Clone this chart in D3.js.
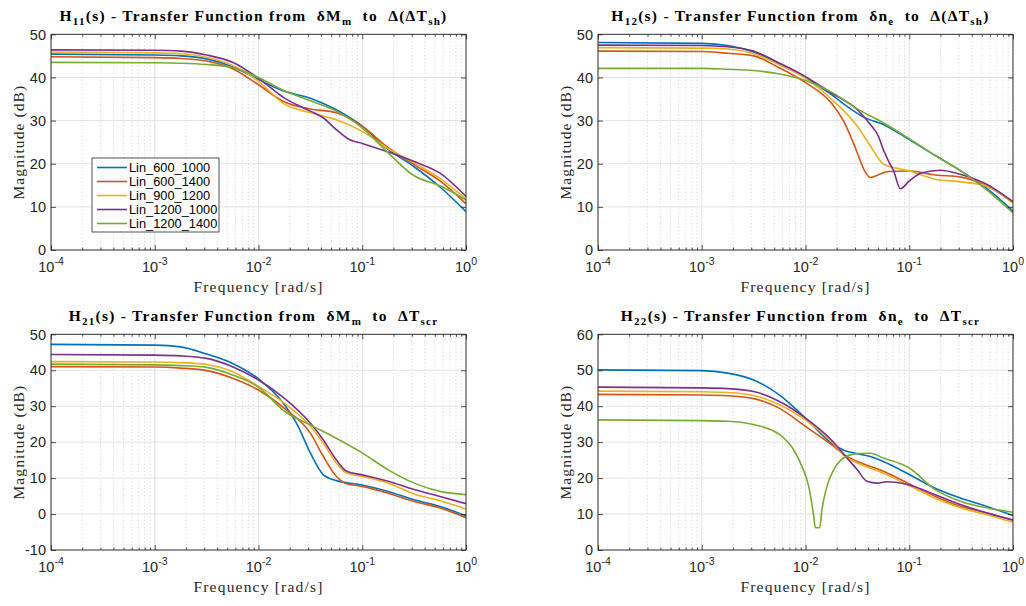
<!DOCTYPE html>
<html><head><meta charset="utf-8">
<script src="https://cdn.jsdelivr.net/npm/d3@7"></script>
<style>
body{margin:0;background:#fff}
svg{display:block}
text{white-space:pre}
</style>
</head><body>
<svg id="chart" width="1026" height="606"></svg>
<script>
// ---------- data ----------
const seriesNames = ["Lin_600_1000","Lin_600_1400","Lin_900_1200","Lin_1200_1000","Lin_1200_1400"];
const seriesColors = ["#0072BD","#D95319","#EDB120","#7E2F8E","#77AC30"];
const xTickExponents = [-4,-3,-2,-1,0];
const yTicksTop = [0,10,20,30,40,50];
const yTicksH21 = [-10,0,10,20,30,40,50];
const yTicksH22 = [0,10,20,30,40,50,60];
const xLabel = "Frequency [rad/s]";
const yLabel = "Magnitude (dB)";

// H11: δMm -> Δ(ΔTsh)   [frequency rad/s, magnitude dB]
const H11_600_1000 = [[1e-4,45.4],[1e-3,45.2],[1.78e-3,45.0],[3.16e-3,44.3],[5.62e-3,42.5],[1e-2,39.5],[1.78e-2,36.8],[3.16e-2,35.2],[5.62e-2,32.5],[0.1,28.7],[0.178,23.3],[0.316,19.3],[0.562,14.6],[1,8.9]];
const H11_600_1400 = [[1e-4,44.8],[1e-3,44.6],[1.78e-3,44.4],[3.16e-3,43.8],[5.62e-3,42.0],[1e-2,38.3],[1.78e-2,34.3],[3.16e-2,32.7],[5.62e-2,31.8],[0.1,28.7],[0.178,23.7],[0.316,19.8],[0.562,16.0],[1,10.7]];
const H11_900_1200 = [[1e-4,45.9],[1e-3,45.7],[1.78e-3,45.5],[3.16e-3,44.7],[5.62e-3,42.8],[1e-2,39.1],[1.78e-2,33.8],[3.16e-2,31.8],[5.62e-2,30.2],[0.1,27.5],[0.178,23.5],[0.316,20.2],[0.562,16.6],[1,11.8]];
const H11_1200_1000 = [[1e-4,46.4],[1e-3,46.3],[1.78e-3,46.1],[3.16e-3,45.2],[5.62e-3,43.5],[1e-2,39.8],[1.78e-2,35.2],[3.16e-2,32.2],[4.22e-2,30.6],[5.62e-2,27.9],[7.5e-2,25.6],[0.1,24.7],[0.178,22.7],[0.316,20.5],[0.562,17.8],[1,12.4]];
const H11_1200_1400 = [[1e-4,43.5],[1e-3,43.4],[1.78e-3,43.3],[3.16e-3,43.0],[5.62e-3,42.3],[1e-2,40.0],[1.78e-2,36.9],[3.16e-2,34.6],[5.62e-2,32.2],[0.1,28.3],[0.178,22.5],[0.316,17.2],[0.562,14.9],[1,11.6]];

// H12: δne -> Δ(ΔTsh)
const H12_600_1000 = [[1e-4,48.1],[1e-3,47.9],[1.78e-3,47.4],[3.16e-3,45.9],[5.62e-3,43.2],[1e-2,40.0],[1.78e-2,36.0],[2.51e-2,33.3],[3.63e-2,30.8],[5.62e-2,29.1],[0.1,25.6],[0.178,21.9],[0.316,18.3],[0.562,14.2],[1,9.0]];
const H12_600_1400 = [[1e-4,46.1],[1e-3,46.0],[1.78e-3,45.6],[3.16e-3,45.0],[5.62e-3,42.2],[1e-2,38.8],[1.78e-2,34.0],[2.37e-2,29.5],[3.16e-2,22.5],[3.65e-2,18.7],[4.22e-2,16.8],[5.01e-2,17.4],[6.31e-2,18.2],[0.1,18.3],[0.178,17.4],[0.316,16.9],[0.562,14.8],[1,11.2]];
const H12_900_1200 = [[1e-4,46.9],[1e-3,46.8],[1.78e-3,46.6],[3.16e-3,45.5],[5.62e-3,42.9],[1e-2,39.8],[1.78e-2,35.0],[3.16e-2,28.7],[4.22e-2,24.1],[5.01e-2,21.4],[5.62e-2,19.9],[7.5e-2,19.0],[0.1,18.3],[0.178,16.4],[0.316,15.8],[0.562,14.8],[1,10.8]];
const H12_1200_1000 = [[1e-4,47.5],[1e-3,47.4],[1.78e-3,47.1],[3.16e-3,46.1],[5.62e-3,43.3],[1e-2,40.2],[1.78e-2,36.4],[3.16e-2,32.5],[4.22e-2,29.1],[5.01e-2,26.5],[5.62e-2,23.3],[6.31e-2,20.6],[7.08e-2,18.3],[8.22e-2,14.2],[0.1,16.0],[0.133,17.9],[0.2,18.5],[0.316,17.5],[0.562,15.2],[1,11.2]];
const H12_1200_1400 = [[1e-4,42.1],[1e-3,42.1],[1.78e-3,41.9],[3.16e-3,41.6],[5.62e-3,40.8],[1e-2,39.3],[1.78e-2,36.6],[3.16e-2,32.7],[5.62e-2,29.5],[0.1,25.8],[0.178,21.9],[0.316,18.3],[0.562,13.9],[1,8.6]];

// H21: δMm -> ΔTscr
const H21_600_1000 = [[1e-4,47.2],[1e-3,47.0],[1.78e-3,46.5],[3.16e-3,44.5],[5.62e-3,41.9],[1e-2,37.6],[1.78e-2,30.4],[2.37e-2,24.8],[3.16e-2,17.0],[4.22e-2,10.9],[5.62e-2,9.3],[0.1,8.1],[0.178,6.3],[0.316,4.0],[0.562,2.1],[1,-0.5]];
const H21_600_1400 = [[1e-4,41.0],[1e-3,40.9],[1.78e-3,40.6],[3.16e-3,39.9],[5.62e-3,37.8],[1e-2,34.5],[1.78e-2,29.4],[3.16e-2,22.5],[4.22e-2,16.0],[5.62e-2,10.5],[7.08e-2,8.4],[0.1,7.7],[0.178,5.8],[0.316,3.5],[0.562,1.7],[1,-1.0]];
const H21_900_1200 = [[1e-4,42.4],[1e-3,42.3],[1.78e-3,42.1],[3.16e-3,41.6],[5.62e-3,39.6],[1e-2,35.5],[1.78e-2,30.8],[3.16e-2,24.4],[4.22e-2,19.7],[5.62e-2,14.2],[7.08e-2,11.4],[0.1,10.5],[0.178,8.6],[0.316,5.6],[0.562,3.7],[1,1.4]];
const H21_1200_1000 = [[1e-4,44.4],[1e-3,44.2],[1.78e-3,44.0],[3.16e-3,43.3],[5.62e-3,41.0],[1e-2,37.3],[1.78e-2,32.2],[3.16e-2,25.3],[4.22e-2,20.6],[5.62e-2,15.1],[7.08e-2,11.9],[0.1,10.9],[0.178,9.1],[0.316,6.8],[0.562,4.9],[1,2.9]];
const H21_1200_1400 = [[1e-4,41.7],[1e-3,41.5],[1.78e-3,41.3],[3.16e-3,40.8],[5.62e-3,38.7],[1e-2,35.3],[1.78e-2,28.6],[3.16e-2,24.8],[5.62e-2,21.1],[0.1,17.0],[0.178,12.3],[0.316,8.6],[0.562,6.3],[1,5.4]];

// H22: δne -> ΔTscr
const H22_600_1000 = [[1e-4,50.1],[1e-3,49.9],[1.78e-3,49.2],[3.16e-3,47.3],[5.62e-3,43.1],[1e-2,36.7],[1.78e-2,29.7],[2.37e-2,27.7],[3.16e-2,26.8],[4.22e-2,26.0],[5.62e-2,24.6],[0.1,21.0],[0.178,17.2],[0.316,14.4],[0.562,12.1],[1,9.6]];
const H22_600_1400 = [[1e-4,43.3],[1e-3,43.1],[1.78e-3,42.9],[3.16e-3,42.1],[5.62e-3,39.4],[1e-2,34.4],[1.78e-2,29.3],[2.51e-2,26.0],[3.16e-2,24.6],[5.62e-2,21.9],[0.1,18.4],[0.178,14.9],[0.316,12.1],[0.562,10.3],[1,8.2]];
const H22_900_1200 = [[1e-4,44.2],[1e-3,44.0],[1.78e-3,43.8],[3.16e-3,43.0],[5.62e-3,40.4],[1e-2,36.2],[1.78e-2,30.2],[2.51e-2,25.6],[3.16e-2,24.2],[5.62e-2,21.4],[0.1,17.9],[0.178,14.4],[0.316,11.7],[0.562,9.8],[1,7.7]];
const H22_1200_1000 = [[1e-4,45.3],[1e-3,45.1],[1.78e-3,44.9],[3.16e-3,44.1],[5.62e-3,41.3],[1e-2,36.7],[1.78e-2,30.6],[2.51e-2,25.6],[3.16e-2,22.3],[3.92e-2,19.1],[4.89e-2,18.6],[6.11e-2,19.0],[0.1,18.1],[0.178,15.4],[0.316,12.6],[0.562,10.3],[1,8.4]];
const H22_1200_1400 = [[1e-4,36.2],[1e-3,36.0],[1.78e-3,35.8],[3.16e-3,34.9],[5.62e-3,32.1],[7.52e-3,28.3],[9.25e-3,23.2],[1.074e-2,17.7],[1.2e-2,9.4],[1.244e-2,6.2],[1.37e-2,6.2],[1.44e-2,11.2],[1.61e-2,17.7],[1.87e-2,22.3],[2.33e-2,25.6],[3.16e-2,26.8],[4.22e-2,26.9],[5.62e-2,25.6],[0.1,22.8],[0.178,16.8],[0.316,13.5],[0.562,11.7],[1,10.5]];

// ---------- panels ----------
const panels = [
  {left:51, top:34.3, yDomain:[0,50], yTicks:yTicksTop, legend:true,
   title:[["H",0],["11",1],["(s) - Transfer Function from  ",0],["δM",0],["m",1],["  to  Δ(ΔT",0],["sh",1],[")",0]],
   series:[H11_600_1000,H11_600_1400,H11_900_1200,H11_1200_1000,H11_1200_1400]},
  {left:598, top:34.3, yDomain:[0,50], yTicks:yTicksTop,
   title:[["H",0],["12",1],["(s) - Transfer Function from  ",0],["δn",0],["e",1],["  to  Δ(ΔT",0],["sh",1],[")",0]],
   series:[H12_600_1000,H12_600_1400,H12_900_1200,H12_1200_1000,H12_1200_1400]},
  {left:51, top:334.3, yDomain:[-10,50], yTicks:yTicksH21,
   title:[["H",0],["21",1],["(s) - Transfer Function from  ",0],["δM",0],["m",1],["  to  ΔT",0],["scr",1]],
   series:[H21_600_1000,H21_600_1400,H21_900_1200,H21_1200_1000,H21_1200_1400]},
  {left:598, top:334.3, yDomain:[0,60], yTicks:yTicksH22,
   title:[["H",0],["22",1],["(s) - Transfer Function from  ",0],["δn",0],["e",1],["  to  ΔT",0],["scr",1]],
   series:[H22_600_1000,H22_600_1400,H22_900_1200,H22_1200_1000,H22_1200_1400]}
];

const W = 415, H = 215.7;
const axisColor = "#262626";
const sans = "'Liberation Sans', Arial, Helvetica, sans-serif";
const serif = "'Liberation Serif', 'Times New Roman', serif";
const svg = d3.select("#chart");
let titleSpacing = null;

panels.forEach((p, pi) => {
  const x = d3.scaleLog().domain([1e-4, 1]).range([p.left, p.left + W]);
  const y = d3.scaleLinear().domain(p.yDomain).range([p.top + H, p.top]);
  const g = svg.append("g");
  const allTicks = x.ticks();
  const majors = xTickExponents.map(e => Math.pow(10, e));
  const minors = allTicks.filter(t => Math.abs(Math.log10(t) - Math.round(Math.log10(t))) > 1e-6);

  // minor grid (dotted)
  g.selectAll(".mg").data(minors).join("line")
    .attr("x1", d => x(d)).attr("x2", d => x(d))
    .attr("y1", p.top).attr("y2", p.top + H)
    .attr("stroke", "#c8c8c8").attr("stroke-width", 0.8).attr("stroke-dasharray", "1,2.5");
  // major grid
  g.selectAll(".Mgx").data(majors).join("line")
    .attr("x1", d => x(d)).attr("x2", d => x(d))
    .attr("y1", p.top).attr("y2", p.top + H)
    .attr("stroke", "#e3e3e3").attr("stroke-width", 1);
  g.selectAll(".Mgy").data(p.yTicks).join("line")
    .attr("x1", p.left).attr("x2", p.left + W)
    .attr("y1", d => y(d)).attr("y2", d => y(d))
    .attr("stroke", "#e3e3e3").attr("stroke-width", 1);

  // curves
  const clipId = "clip" + pi;
  svg.append("clipPath").attr("id", clipId).append("rect")
    .attr("x", p.left).attr("y", p.top).attr("width", W).attr("height", H);
  const line = d3.line().x(d => x(d[0])).y(d => y(d[1])).curve(d3.curveMonotoneX);
  g.append("g").attr("clip-path", `url(#${clipId})`)
    .selectAll("path").data(p.series).join("path")
    .attr("d", line).attr("fill", "none")
    .attr("stroke", (d, i) => seriesColors[i]).attr("stroke-width", 1.6);

  // axes ticks (inside)
  const styleAxis = sel => { sel.select(".domain").remove(); sel.selectAll("line").attr("stroke", axisColor).attr("stroke-width", 0.8); sel.selectAll("text").remove(); };
  g.append("g").attr("transform", `translate(0,${p.top + H})`).call(d3.axisBottom(x).tickValues(majors).tickSize(-5).tickFormat("")).call(styleAxis);
  g.append("g").attr("transform", `translate(0,${p.top + H})`).call(d3.axisBottom(x).tickValues(minors).tickSize(-2.5).tickFormat("")).call(styleAxis);
  g.append("g").attr("transform", `translate(0,${p.top})`).call(d3.axisTop(x).tickValues(majors).tickSize(-5).tickFormat("")).call(styleAxis);
  g.append("g").attr("transform", `translate(0,${p.top})`).call(d3.axisTop(x).tickValues(minors).tickSize(-2.5).tickFormat("")).call(styleAxis);
  g.append("g").attr("transform", `translate(${p.left},0)`).call(d3.axisLeft(y).tickValues(p.yTicks).tickSize(-5).tickFormat("")).call(styleAxis);
  g.append("g").attr("transform", `translate(${p.left + W},0)`).call(d3.axisRight(y).tickValues(p.yTicks).tickSize(-5).tickFormat("")).call(styleAxis);

  // box
  g.append("rect").attr("x", p.left).attr("y", p.top).attr("width", W).attr("height", H)
    .attr("fill", "none").attr("stroke", axisColor).attr("stroke-width", 0.9);

  // y tick labels
  g.selectAll(".yl").data(p.yTicks).join("text")
    .attr("x", p.left - 5).attr("y", d => y(d)).attr("dy", "0.36em")
    .attr("text-anchor", "end").attr("font-family", sans).attr("font-size", 14.5)
    .attr("fill", axisColor).text(d => d);

  // x tick labels 10^e
  xTickExponents.forEach(e => {
    const t = g.append("text").attr("x", x(Math.pow(10, e))).attr("y", p.top + H + 22)
      .attr("text-anchor", "middle").attr("font-family", sans).attr("font-size", 14.5).attr("fill", axisColor);
    t.append("tspan").text("10");
    t.append("tspan").attr("dy", -7).attr("font-size", 10.5).text(String(e));
  });

  // axis labels
  g.append("text").attr("x", p.left + W / 2).attr("y", p.top + H + 42)
    .attr("text-anchor", "middle").attr("font-family", serif).attr("font-size", 15.5)
    .attr("letter-spacing", 1.2)
    .attr("fill", axisColor).text(xLabel);
  g.append("text").attr("transform", `translate(${p.left - 27},${p.top + H / 2}) rotate(-90)`)
    .attr("text-anchor", "middle").attr("font-family", serif).attr("font-size", 15.5)
    .attr("letter-spacing", 1.1)
    .attr("fill", axisColor).text(yLabel);

  // title
  const tt = g.append("text").attr("x", p.left + W / 2 - 5).attr("y", p.top - 13.5)
    .attr("text-anchor", "middle").attr("font-family", serif).attr("font-weight", "bold")
    .attr("font-size", 15.5).attr("fill", "#000");
  let sub = false;
  p.title.forEach(([s, isSub]) => {
    const ts = tt.append("tspan").text(s);
    if (isSub && !sub) { ts.attr("dy", 4).attr("font-size", 11); sub = true; }
    else if (isSub) { ts.attr("font-size", 11); }
    else if (!isSub && sub) { ts.attr("dy", -4); sub = false; }
  });
  if (titleSpacing === null) {
    const nChars = p.title.reduce((a, [s]) => a + s.length, 0);
    titleSpacing = (388 - tt.node().getComputedTextLength()) / nChars;
  }
  tt.attr("letter-spacing", titleSpacing);

  // legend
  if (p.legend) {
    const lx = 92, ly = 158, lw = 127, lh = 74;
    const lg = g.append("g");
    lg.append("rect").attr("x", lx).attr("y", ly).attr("width", lw).attr("height", lh)
      .attr("fill", "#fff").attr("stroke", axisColor).attr("stroke-width", 0.8);
    seriesNames.forEach((n, i) => {
      const yy = ly + 9.5 + i * 14;
      lg.append("line").attr("x1", lx + 5).attr("x2", lx + 35).attr("y1", yy).attr("y2", yy)
        .attr("stroke", seriesColors[i]).attr("stroke-width", 1.6);
      lg.append("text").attr("x", lx + 37).attr("y", yy).attr("dy", "0.36em")
        .attr("font-family", sans).attr("font-size", 12.8).attr("fill", "#000").text(n);
    });
  }
});
</script>
</body></html>
